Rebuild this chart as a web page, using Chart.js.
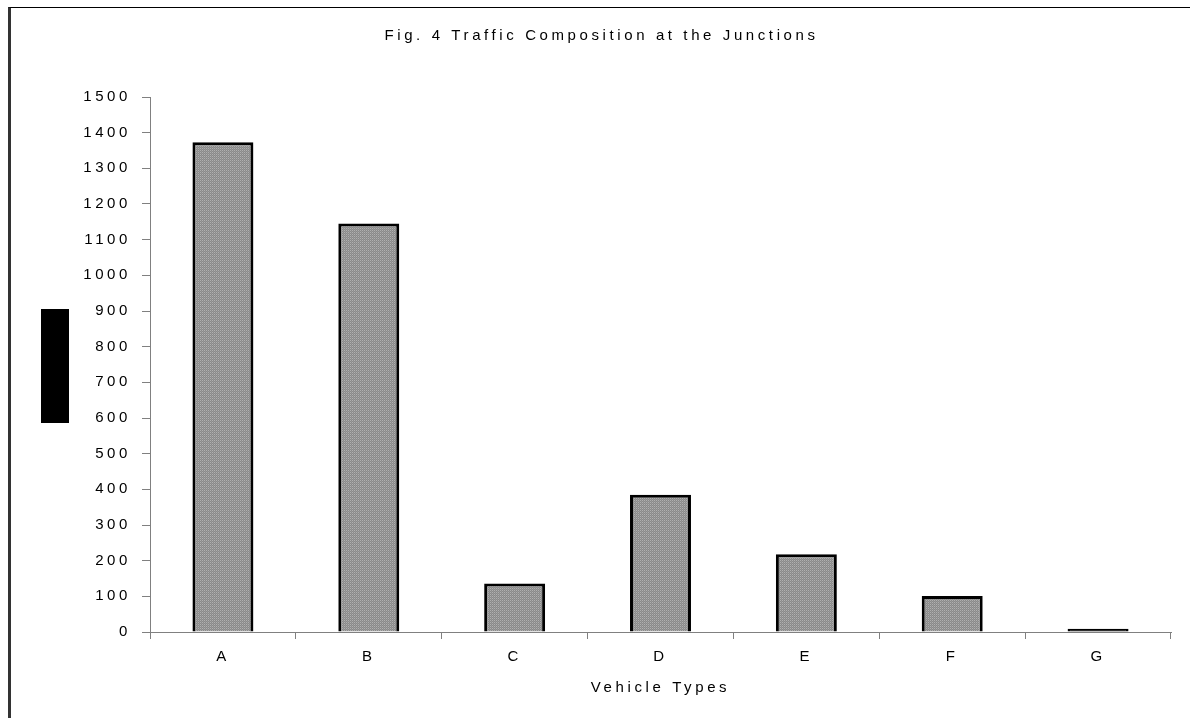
<!DOCTYPE html>
<html>
<head>
<meta charset="utf-8">
<title>Traffic Composition</title>
<script src="https://cdn.jsdelivr.net/npm/chart.js@4/dist/chart.umd.min.js"></script>
<style>
  html, body { margin: 0; padding: 0; background: #fff; overflow: hidden; }
  #wrap { position: relative; width: 1190px; height: 718px; }
  #chart { position: absolute; left: 0; top: 0; }
  /* outer frame of the figure */
  #frame {
    position: absolute; left: 8px; top: 7px; width: 1200px; height: 720px;
    border-left: 3px solid #333; border-top: 1px solid #000;
    pointer-events: none;
  }
  /* block standing in for the y axis caption */
  #ymark { position: absolute; left: 41px; top: 309px; width: 28px; height: 114px; background: #000; }
</style>
</head>
<body>
<div id="wrap">
  <canvas id="chart" width="1190" height="718"></canvas>
  <div id="frame"></div>
  <div id="ymark"></div>
</div>
<script>
// 数据
const vehicleTypes = ['A', 'B', 'C', 'D', 'E', 'F', 'G'];
const vehicleCounts = [1373, 1145, 136, 385, 218, 101, 9];
const yMax = 1500;
const yStep = 100;

const fontFamily = '"Liberation Sans", Arial, sans-serif';
const fontSize = 15;

// 点状灰色填充
function makeDotPattern() {
    const c = document.createElement('canvas');
    c.width = 2;
    c.height = 2;
    const g = c.getContext('2d');
    g.fillStyle = '#8a8a8a';
    g.fillRect(0, 0, 2, 2);
    g.fillStyle = '#b0b0b0';
    g.fillRect(0, 0, 1, 1);
    g.fillStyle = '#989898';
    g.fillRect(1, 1, 1, 1);
    return g.createPattern(c, 'repeat');
}
const dotPattern = makeDotPattern();

// 字距（画布重置后需要重新设置）
const spacingPlugin = {
    id: 'letterSpacing',
    beforeDraw(chart) {
        chart.ctx.letterSpacing = '3.6px';
    }
};

const ctx = document.getElementById('chart').getContext('2d');
const chart = new Chart(ctx, {
    type: 'bar',
    data: {
        labels: vehicleTypes,
        datasets: [{
            data: vehicleCounts,
            // 很矮的柱子只剩边框，整条画成黑色
            backgroundColor: (c) => (c.raw !== undefined && c.raw < 20 ? '#000' : dotPattern),
            borderColor: '#000',
            borderWidth: 3,
            borderSkipped: 'bottom',
            categoryPercentage: 1,
            barPercentage: 0.418
        }]
    },
    options: {
        responsive: false,
        animation: false,
        layout: { padding: { left: 32, right: 19, top: 0, bottom: 0 } },
        plugins: {
            legend: { display: false },
            tooltip: { enabled: false },
            title: {
                display: true,
                text: 'Fig. 4 Traffic Composition at the Junctions',
                color: '#000',
                font: { family: fontFamily, size: fontSize, weight: 'normal' },
                padding: { top: 27, bottom: 52 }
            }
        },
        scales: {
            x: {
                grid: {
                    offset: true,
                    drawOnChartArea: false,
                    drawTicks: true,
                    tickLength: 7,
                    color: '#808080'
                },
                border: { color: '#808080', width: 1 },
                ticks: {
                    color: '#000',
                    padding: 9,
                    font: { family: fontFamily, size: fontSize }
                },
                title: {
                    display: true,
                    text: 'Vehicle Types',
                    color: '#000',
                    font: { family: fontFamily, size: fontSize },
                    padding: { top: 0, bottom: 21 }
                },
                afterFit(scale) { scale.height = 86; }
            },
            y: {
                min: 0,
                max: yMax,
                grid: {
                    drawOnChartArea: false,
                    drawTicks: true,
                    tickLength: 8,
                    color: '#808080'
                },
                border: { color: '#808080', width: 1 },
                ticks: {
                    stepSize: yStep,
                    color: '#000',
                    padding: 11,
                    font: { family: fontFamily, size: fontSize },
                    callback: (v) => String(v)
                },
                afterFit(scale) { scale.width = 118; }
            }
        }
    },
    plugins: [spacingPlugin]
});
</script>
</body>
</html>
